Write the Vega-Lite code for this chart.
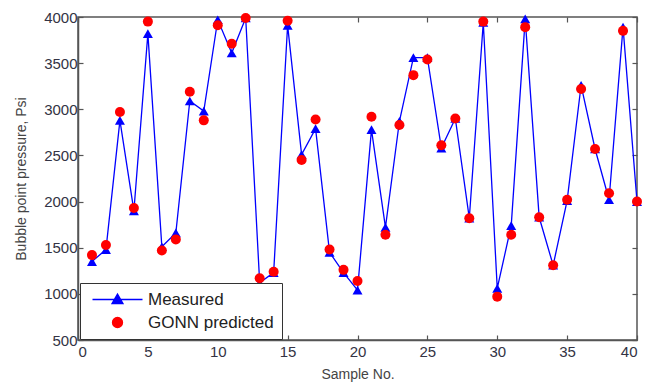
{
  "$schema": "https://vega.github.io/schema/vega-lite/v6.json",
  "autosize": {"type": "none"},
  "padding": {"left": 78, "top": 17, "right": 8, "bottom": 47},
  "width": 559,
  "height": 323,
  "background": "white",
  "config": {
    "view": {"stroke": "#555555", "strokeWidth": 1.5},
    "font": "Liberation Sans",
    "legend": {"symbolOpacity": 1},
    "axis": {
      "grid": false,
      "domainColor": "#555555",
      "domainWidth": 1.5,
      "tickColor": "#555555",
      "tickWidth": 1.2,
      "labelColor": "#333344",
      "titleColor": "#444444",
      "labelFont": "Liberation Sans",
      "titleFont": "Liberation Sans",
      "labelFontSize": 15,
      "titleFontSize": 14,
      "titleFontWeight": "normal"
    }
  },
  "data": {
    "values": [
      {"sample": 1, "series": "Measured", "value": 1350},
      {"sample": 2, "series": "Measured", "value": 1480},
      {"sample": 3, "series": "Measured", "value": 2880},
      {"sample": 4, "series": "Measured", "value": 1900},
      {"sample": 5, "series": "Measured", "value": 3820},
      {"sample": 6, "series": "Measured", "value": 1510},
      {"sample": 7, "series": "Measured", "value": 1660},
      {"sample": 8, "series": "Measured", "value": 3090},
      {"sample": 9, "series": "Measured", "value": 2980},
      {"sample": 10, "series": "Measured", "value": 3970},
      {"sample": 11, "series": "Measured", "value": 3610},
      {"sample": 12, "series": "Measured", "value": 3990},
      {"sample": 13, "series": "Measured", "value": 1120},
      {"sample": 14, "series": "Measured", "value": 1230},
      {"sample": 15, "series": "Measured", "value": 3910},
      {"sample": 16, "series": "Measured", "value": 2510},
      {"sample": 17, "series": "Measured", "value": 2790},
      {"sample": 18, "series": "Measured", "value": 1450},
      {"sample": 19, "series": "Measured", "value": 1230},
      {"sample": 20, "series": "Measured", "value": 1040},
      {"sample": 21, "series": "Measured", "value": 2780},
      {"sample": 22, "series": "Measured", "value": 1720},
      {"sample": 23, "series": "Measured", "value": 2870},
      {"sample": 24, "series": "Measured", "value": 3560},
      {"sample": 25, "series": "Measured", "value": 3560},
      {"sample": 26, "series": "Measured", "value": 2580},
      {"sample": 27, "series": "Measured", "value": 2900},
      {"sample": 28, "series": "Measured", "value": 1820},
      {"sample": 29, "series": "Measured", "value": 3940},
      {"sample": 30, "series": "Measured", "value": 1060},
      {"sample": 31, "series": "Measured", "value": 1740},
      {"sample": 32, "series": "Measured", "value": 3980},
      {"sample": 33, "series": "Measured", "value": 1830},
      {"sample": 34, "series": "Measured", "value": 1310},
      {"sample": 35, "series": "Measured", "value": 2010},
      {"sample": 36, "series": "Measured", "value": 3260},
      {"sample": 37, "series": "Measured", "value": 2570},
      {"sample": 38, "series": "Measured", "value": 2020},
      {"sample": 39, "series": "Measured", "value": 3890},
      {"sample": 40, "series": "Measured", "value": 2000},
      {"sample": 1, "series": "GONN predicted", "value": 1420},
      {"sample": 2, "series": "GONN predicted", "value": 1530},
      {"sample": 3, "series": "GONN predicted", "value": 2970},
      {"sample": 4, "series": "GONN predicted", "value": 1930},
      {"sample": 5, "series": "GONN predicted", "value": 3950},
      {"sample": 6, "series": "GONN predicted", "value": 1470},
      {"sample": 7, "series": "GONN predicted", "value": 1590},
      {"sample": 8, "series": "GONN predicted", "value": 3190},
      {"sample": 9, "series": "GONN predicted", "value": 2880},
      {"sample": 10, "series": "GONN predicted", "value": 3910},
      {"sample": 11, "series": "GONN predicted", "value": 3710},
      {"sample": 12, "series": "GONN predicted", "value": 3990},
      {"sample": 13, "series": "GONN predicted", "value": 1170},
      {"sample": 14, "series": "GONN predicted", "value": 1240},
      {"sample": 15, "series": "GONN predicted", "value": 3960},
      {"sample": 16, "series": "GONN predicted", "value": 2450},
      {"sample": 17, "series": "GONN predicted", "value": 2890},
      {"sample": 18, "series": "GONN predicted", "value": 1480},
      {"sample": 19, "series": "GONN predicted", "value": 1260},
      {"sample": 20, "series": "GONN predicted", "value": 1140},
      {"sample": 21, "series": "GONN predicted", "value": 2920},
      {"sample": 22, "series": "GONN predicted", "value": 1640},
      {"sample": 23, "series": "GONN predicted", "value": 2830},
      {"sample": 24, "series": "GONN predicted", "value": 3370},
      {"sample": 25, "series": "GONN predicted", "value": 3540},
      {"sample": 26, "series": "GONN predicted", "value": 2610},
      {"sample": 27, "series": "GONN predicted", "value": 2900},
      {"sample": 28, "series": "GONN predicted", "value": 1820},
      {"sample": 29, "series": "GONN predicted", "value": 3950},
      {"sample": 30, "series": "GONN predicted", "value": 970},
      {"sample": 31, "series": "GONN predicted", "value": 1640},
      {"sample": 32, "series": "GONN predicted", "value": 3890},
      {"sample": 33, "series": "GONN predicted", "value": 1830},
      {"sample": 34, "series": "GONN predicted", "value": 1310},
      {"sample": 35, "series": "GONN predicted", "value": 2020},
      {"sample": 36, "series": "GONN predicted", "value": 3220},
      {"sample": 37, "series": "GONN predicted", "value": 2570},
      {"sample": 38, "series": "GONN predicted", "value": 2090},
      {"sample": 39, "series": "GONN predicted", "value": 3850},
      {"sample": 40, "series": "GONN predicted", "value": 2000}
    ]
  },
  "resolve": {
    "axis": {"x": "independent", "y": "independent"},
    "scale": {"color": "independent", "shape": "independent", "stroke": "independent"}
  },
  "layer": [
    {
      "transform": [{"filter": "datum.series === 'Measured'"}],
      "mark": {"type": "line", "color": "#0000ff", "strokeWidth": 1.3},
      "encoding": {
        "x": {
          "field": "sample", "type": "quantitative",
          "scale": {"domain": [0, 40], "nice": false},
          "axis": {"values": [0, 5, 10, 15, 20, 25, 30, 35, 40], "format": "d", "title": "Sample No.", "tickSize": -5, "labelPadding": 9, "titlePadding": 8}
        },
        "y": {
          "field": "value", "type": "quantitative",
          "scale": {"domain": [500, 4000], "nice": false, "zero": false},
          "axis": {"values": [500, 1000, 1500, 2000, 2500, 3000, 3500, 4000], "format": "d", "title": "Bubble point pressure, Psi", "tickSize": -5, "labelPadding": 6, "titlePadding": 15}
        }
      }
    },
    {
      "mark": {"type": "point", "filled": true, "opacity": 1, "strokeWidth": 0},
      "encoding": {
        "x": {
          "field": "sample", "type": "quantitative",
          "axis": {"orient": "top", "values": [0, 5, 10, 15, 20, 25, 30, 35, 40], "labels": false, "title": null, "tickSize": -5, "domain": false}
        },
        "y": {
          "field": "value", "type": "quantitative",
          "axis": {"orient": "right", "values": [500, 1000, 1500, 2000, 2500, 3000, 3500, 4000], "labels": false, "title": null, "tickSize": -5, "domain": false}
        },
        "color": {
          "field": "series", "type": "nominal",
          "scale": {"domain": ["Measured", "GONN predicted"], "range": ["#0000ff", "#ff0000"]},
          "legend": null
        },
        "shape": {
          "field": "series", "type": "nominal",
          "scale": {"domain": ["Measured", "GONN predicted"], "range": ["triangle-up", "circle"]},
          "legend": null
        },
        "size": {"value": 100}
      }
    },
    {
      "mark": {"type": "point", "filled": true, "opacity": 0, "strokeWidth": 1.3},
      "encoding": {
        "x": {"field": "sample", "type": "quantitative", "axis": null},
        "y": {"field": "value", "type": "quantitative", "axis": null},
        "color": {
          "field": "series", "type": "nominal",
          "scale": {"domain": ["Measured", "GONN predicted"], "range": ["#0000ff", "#ff0000"]},
          "legend": {
            "title": null,
            "orient": "none",
            "legendX": 2,
            "legendY": 266,
            "strokeColor": "#333333",
            "fillColor": "#ffffff",
            "padding": 8,
            "labelFontSize": 17,
            "labelColor": "#222222",
            "labelFont": "Liberation Sans",
            "symbolSize": 100,
            "symbolOffset": 21,
            "labelOffset": 22,
            "rowPadding": 5,
            "symbolStrokeWidth": 1.3
          }
        },
        "stroke": {
          "field": "series", "type": "nominal",
          "scale": {"domain": ["Measured", "GONN predicted"], "range": ["#0000ff", "#ff0000"]}
        },
        "shape": {
          "field": "series", "type": "nominal",
          "scale": {"domain": ["Measured", "GONN predicted"], "range": ["M-5,0L5,0M0,-1.1L1.1,0.8L-1.1,0.8Z", "circle"]}
        },
        "size": {"value": 100}
      }
    }
  ]
}
